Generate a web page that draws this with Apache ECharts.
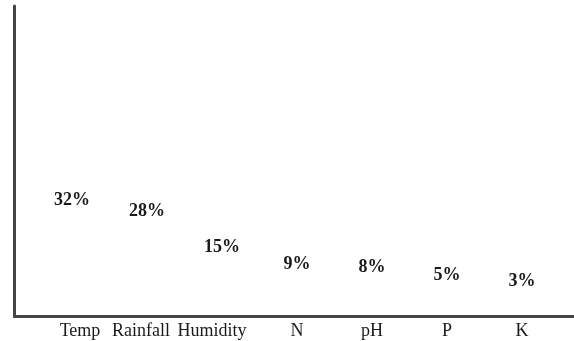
<!DOCTYPE html>
<html>
<head>
<meta charset="utf-8">
<script src="https://cdn.jsdelivr.net/npm/echarts@6/dist/echarts.min.js"></script>
<style>
html,body{margin:0;padding:0;background:#fff;}
#chart{width:574px;height:341px;}
</style>
</head>
<body>
<div id="chart"></div>
<script>
const categories = ['Temp', 'Rainfall', 'Humidity', 'N', 'pH', 'P', 'K'];
const importance = [32, 28, 15, 9, 8, 5, 3];

const chart = echarts.init(document.getElementById('chart'), null, {renderer: 'canvas'});
const serif = '"Liberation Serif", "Times New Roman", serif';
const shifts = [16, -12, -20, 0, 0, 0, 0];

chart.setOption({
  animation: false,
  backgroundColor: '#fff',
  grid: [
    {left: 14.5, right: 0, top: 6, bottom: 24.5},
    {left: 34.5, right: 14.5, top: 6, bottom: 24.5}
  ],
  xAxis: [
    {
      gridIndex: 0, type: 'value', min: 0, max: 1,
      axisLine: {show: true, lineStyle: {color: '#444', width: 3}},
      axisTick: {show: false}, axisLabel: {show: false}, splitLine: {show: false}
    },
    {
      gridIndex: 1, type: 'category',
      data: categories.map((c, i) => ({
        value: c,
        textStyle: {padding: shifts[i] >= 0 ? [0, 0, 0, shifts[i]] : [0, -shifts[i], 0, 0]}
      })),
      axisLine: {show: false}, axisTick: {show: false},
      axisLabel: {interval: 0, margin: 6, fontFamily: serif, fontSize: 18, color: '#1a1a1a'},
      splitLine: {show: false}
    }
  ],
  yAxis: [
    {
      gridIndex: 0, type: 'value', min: 0, max: 111,
      axisLine: {show: true, lineStyle: {color: '#444', width: 3}},
      axisTick: {show: false}, axisLabel: {show: false}, splitLine: {show: false}
    },
    {
      gridIndex: 1, type: 'value', min: 0, max: 111,
      axisLine: {show: false}, axisTick: {show: false},
      axisLabel: {show: false}, splitLine: {show: false}
    }
  ],
  series: [{
    type: 'bar',
    xAxisIndex: 1, yAxisIndex: 1,
    data: importance,
    barWidth: '60%',
    itemStyle: {color: 'rgba(0,0,0,0)'},
    label: {
      show: true, position: 'top', distance: 18,
      formatter: '{c}%',
      fontFamily: serif, fontSize: 18, fontWeight: 'bold', color: '#1a1a1a'
    }
  }]
});
</script>
</body>
</html>
